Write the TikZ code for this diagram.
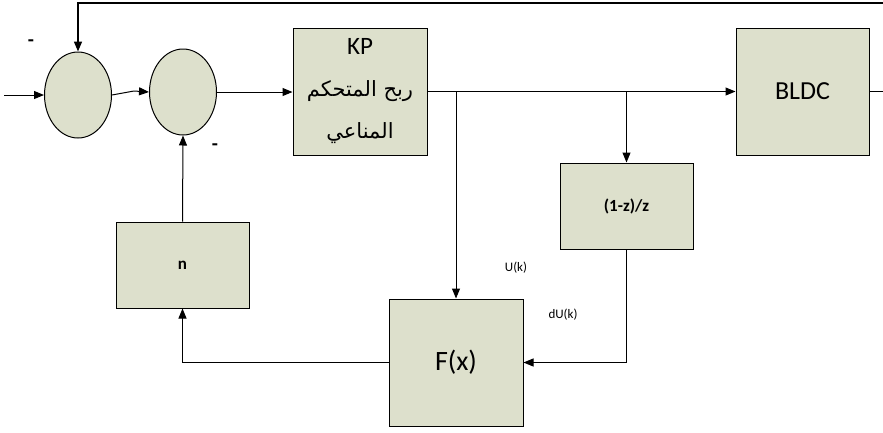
\documentclass[tikz,border=0pt]{standalone}
\usepackage{fontspec}
\setmainfont{Carlito}
\newfontfamily\arabicfont[Script=Arabic]{DejaVu Sans}
\TeXXeTstate=1
\usetikzlibrary{arrows.meta,shapes.geometric}
\definecolor{boxfill}{RGB}{221,224,204}
\tikzset{
	block/.style={draw, line width=1pt, fill=boxfill, inner sep=0pt, align=center},
	summer/.style={draw, ellipse, line width=1pt, fill=boxfill, minimum width=67pt, minimum height=86pt},
	flow/.style={line width=1pt, -{Triangle[length=10pt,width=8pt]}},
	wire/.style={line width=1pt},
	sig/.style={font=\fontsize{13}{15}\selectfont},
	minus/.style={font=\fontsize{20}{22}\selectfont\bfseries}
}
\begin{document}
\begin{tikzpicture}[x=1pt, y=-1pt]
				\useasboundingbox (0,0) rectangle (883,432);
				\node[summer] (s1) at (78,95) {};
				\node[summer] (s2) at (183,92) {};
				\node[block, minimum width=134pt, minimum height=127pt, font=\fontsize{25}{42}\selectfont] (kp) at (360,91.5) {KP\\{\arabicfont\fontsize{21}{42}\selectfont\beginR ربح المتحكم\endR}\\{\arabicfont\fontsize{21}{42}\selectfont\beginR المناعي\endR}};
				\node[block, minimum width=133pt, minimum height=127pt, font=\fontsize{26}{28}\selectfont] (bldc) at (802.5,91.5) {BLDC};
				\node[block, minimum width=133pt, minimum height=86pt, font=\fontsize{17}{19}\selectfont\bfseries] (dz) at (626.5,206) {(1-z)/z};
				\node[block, minimum width=134pt, minimum height=127pt, font=\fontsize{28}{30}\selectfont] (fx) at (456,362.5) {F(x)};
				\node[block, minimum width=133pt, minimum height=86pt, font=\fontsize{17}{19}\selectfont\bfseries] (nb) at (182.5,265) {n};
				\coordinate (in) at (4,95);
				\coordinate (top) at (883,3);
				\coordinate (out) at (883,91.5);
				\coordinate (b1) at (fx.north |- kp.east);
				\coordinate (b2) at (dz.north |- kp.east);
				\draw[flow] (in) -- (s1.west);
				\draw[flow] (s1.east) -- ++(22,-4) -- (s2.west);
				\draw[flow] (s2.east) -- (s2.east -| kp.west);
				\draw[flow] (kp.east) -- (bldc.west);
				\draw[wire] (bldc.east) -- (out);
				\draw[flow, line width=1.5pt] (top) -- (s1.north |- top) -- (s1.north);
				\draw[flow] (b1) -- (fx.north);
				\draw[flow] (b2) -- (dz.north);
				\draw[flow] (dz.south) -- (dz.south |- fx.east) -- (fx.east);
				\draw[flow] (fx.west) -- (fx.west -| nb.south) -- (nb.south);
				\draw[flow] (nb.north) -- (s2.south);
				\node[minus] (m1) at (31,43) {-};
				\node[minus] (m2) at (215,147) {-};
				\node[sig] (uk) at (516,268) {U(k)};
				\node[sig] (duk) at (563,315) {dU(k)};
			\end{tikzpicture}
\end{document}
